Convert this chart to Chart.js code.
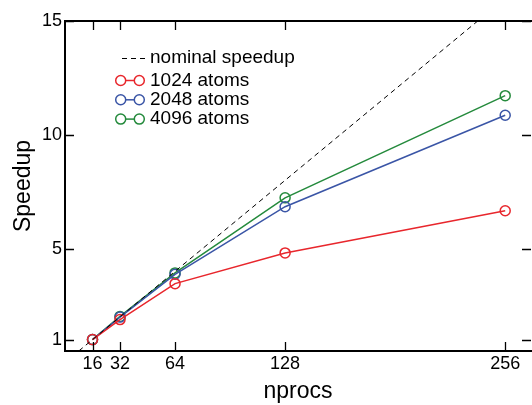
<!DOCTYPE html>
<html>
<head>
<meta charset="utf-8">
<script src="https://cdn.jsdelivr.net/npm/chart.js@4.4.1/dist/chart.umd.min.js"></script>
<style>
 html, body { margin: 0; padding: 0; background: #fff; overflow: hidden; }
 #wrap { width: 532px; height: 405px; }
</style>
</head>
<body>
<div id="wrap"><canvas id="speedChart" width="532" height="405"></canvas></div>
<script>
// data
const nprocs = [16, 32, 64, 128, 256];
const atoms1024 = [1.0, 1.88, 3.46, 4.81, 6.66];
const atoms2048 = [1.0, 1.99, 3.87, 6.84, 10.86];
const atoms4096 = [1.0, 2.02, 3.93, 7.23, 11.72];
const nominalX = [0, 272];
const nominalY = [0, 17];
const xTicks = [16, 32, 64, 128, 256];
const yTicks = [1, 5, 10, 15];

const FONT = "'Liberation Sans', Arial, Helvetica, sans-serif";
const RED = "#e8262c";
const BLUE = "#3a55a6";
const GREEN = "#248a3c";

function pts(xs, ys) {
 return xs.map((x, i) => ({ x: x, y: ys[i] }));
}

function series(label, ys, color) {
 return {
 label: label,
 data: pts(nprocs, ys),
 borderColor: color,
 backgroundColor: "rgba(0,0,0,0)",
 borderWidth: 1.5,
 pointRadius: 5,
 pointBorderWidth: 1.5,
 pointBackgroundColor: "rgba(0,0,0,0)",
 pointBorderColor: color,
 tension: 0
 };
}

// inward ticks on all four sides, top border, and the legend
const frame = {
 id: "frame",
 afterDraw(chart) {
 const ctx = chart.ctx;
 const a = chart.chartArea;
 const xs = chart.scales.x, ys = chart.scales.y;
 ctx.save();
 ctx.strokeStyle = "#000";
 ctx.lineWidth = 2;
 ctx.beginPath();
 ctx.moveTo(a.left - 1, a.top);
 ctx.lineTo(a.right + 2, a.top);
 ctx.stroke();
 ctx.lineWidth = 1.3;
 const len = 9;
 xTicks.forEach(v => {
 const px = Math.round(xs.getPixelForValue(v)) + 0.5;
 ctx.beginPath();
 ctx.moveTo(px, a.bottom); ctx.lineTo(px, a.bottom - len);
 ctx.moveTo(px, a.top); ctx.lineTo(px, a.top + len);
 ctx.stroke();
 });
 yTicks.forEach(v => {
 const py = Math.round(ys.getPixelForValue(v)) + 0.5;
 ctx.beginPath();
 ctx.moveTo(a.left, py); ctx.lineTo(a.left + len, py);
 ctx.moveTo(a.right, py); ctx.lineTo(a.right - len, py);
 ctx.stroke();
 });

 // legend
 ctx.font = "19px " + FONT;
 ctx.textBaseline = "middle";
 ctx.fillStyle = "#000";
 const tx = 150;
 ctx.strokeStyle = "#000";
 ctx.lineWidth = 1;
 ctx.setLineDash([5, 4]);
 ctx.beginPath();
 ctx.moveTo(122, 58.5); ctx.lineTo(145, 58.5);
 ctx.stroke();
 ctx.setLineDash([]);
 ctx.fillText("nominal speedup", tx, 58);
 const rows = chart.data.datasets.slice(1);
 rows.forEach((ds, i) => {
 const y = 80.5 + i * 19.3;
 ctx.strokeStyle = ds.borderColor;
 ctx.lineWidth = 1.5;
 ctx.beginPath();
 ctx.moveTo(126, y); ctx.lineTo(134, y);
 ctx.stroke();
 ctx.beginPath(); ctx.arc(120.7, y, 5, 0, Math.PI * 2); ctx.stroke();
 ctx.beginPath(); ctx.arc(139.3, y, 5, 0, Math.PI * 2); ctx.stroke();
 ctx.fillStyle = "#000";
 ctx.fillText(ds.label, tx, y);
 });
 ctx.restore();
 }
};

new Chart(document.getElementById("speedChart").getContext("2d"), {
 type: "line",
 data: {
 datasets: [
 {
 label: "nominal speedup",
 data: pts(nominalX, nominalY),
 borderColor: "#000",
 borderWidth: 1,
 borderDash: [5, 4],
 pointRadius: 0,
 fill: false
 },
 series("1024 atoms", atoms1024, RED),
 series("2048 atoms", atoms2048, BLUE),
 series("4096 atoms", atoms4096, GREEN)
 ]
 },
 options: {
 responsive: false,
 animation: false,
 devicePixelRatio: 1,
 layout: { autoPadding: false, padding: { top: 21, right: 1, left: 0, bottom: 0 } },
 plugins: { legend: { display: false }, tooltip: { enabled: false } },
 scales: {
 x: {
 type: "linear",
 min: 0,
 max: 271,
 afterBuildTicks: s => { s.ticks = xTicks.map(v => ({ value: v })); },
 afterFit: s => { s.height = 54; },
 grid: { display: false, drawTicks: false },
 border: { display: true, color: "#000", width: 2 },
 ticks: { color: "#000", font: { family: FONT, size: 18 }, padding: 2, maxRotation: 0 },
 title: { display: true, text: "nprocs", color: "#000", font: { family: FONT, size: 23 }, padding: { top: 11, bottom: 0 } }
 },
 y: {
 type: "linear",
 min: 0.5,
 max: 15,
 afterBuildTicks: s => { s.ticks = yTicks.map(v => ({ value: v })); },
 afterFit: s => { s.width = 65; },
 grid: { display: false, drawTicks: false },
 border: { display: true, color: "#000", width: 2 },
 ticks: { color: "#000", font: { family: FONT, size: 18 }, padding: 3 },
 title: { display: true, text: "Speedup", color: "#000", font: { family: FONT, size: 23 }, padding: { top: 10, bottom: 0 } }
 }
 }
 },
 plugins: [frame]
});
</script>
</body>
</html>
